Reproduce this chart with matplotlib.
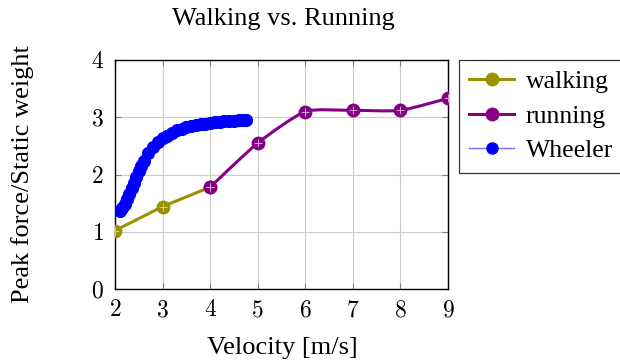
import numpy as np
import matplotlib
matplotlib.use("Agg")
import matplotlib.pyplot as plt
from matplotlib.path import Path
from matplotlib.patches import PathPatch
from matplotlib.lines import Line2D

plt.rcParams['font.family'] = ['Liberation Serif', 'DejaVu Serif']
plt.rcParams['mathtext.fontset'] = 'cm'

# measured curves
walk_v = [2, 3, 4]
walk_f = [1.02, 1.44, 1.78]

run_v = [4, 5, 6, 7, 8, 9]
run_f = [1.78, 2.55, 3.10, 3.12, 3.12, 3.33]

wheeler_v = [2.10, 2.15, 2.20, 2.25, 2.30, 2.35, 2.40, 2.45, 2.50, 2.55, 2.60,
             2.70, 2.80, 2.90, 3.00, 3.10, 3.20, 3.30, 3.40, 3.50, 3.60, 3.70,
             3.80, 3.90, 4.00, 4.10, 4.20, 4.30, 4.40, 4.50, 4.60, 4.70, 4.75]
wheeler_f = [1.36, 1.42, 1.49, 1.57, 1.66, 1.76, 1.86, 1.96, 2.06, 2.15, 2.23,
             2.37, 2.48, 2.57, 2.63, 2.68, 2.73, 2.77, 2.80, 2.83, 2.85, 2.87,
             2.88, 2.89, 2.90, 2.91, 2.92, 2.93, 2.93, 2.94, 2.95, 2.95, 2.95]

xticks = [2, 3, 4, 5, 6, 7, 8, 9]
yticks = [0, 1, 2, 3, 4]

OLIVE = '#9c9200'
PURPLE = '#850085'
BLUE = '#0000ff'


def smooth_path(xs, ys, tension=0.3):
    # tikz-style smooth curve: cubic bezier segments through every point
    pts = np.column_stack([xs, ys]).astype(float)
    n = len(pts)
    verts = [pts[0]]
    codes = [Path.MOVETO]
    for i in range(n - 1):
        p0 = pts[i - 1] if i > 0 else pts[i]
        p1 = pts[i]
        p2 = pts[i + 1]
        p3 = pts[i + 2] if i + 2 < n else pts[i + 1]
        c1 = p1 + (p2 - p0) * tension / 3
        c2 = p2 - (p3 - p1) * tension / 3
        verts += [c1, c2, p2]
        codes += [Path.CURVE4] * 3
    return Path(verts, codes)


def oplus(ax, xs, ys, color, plus_color):
    ax.plot(xs, ys, 'o', ms=9, color=color, zorder=5)
    ax.plot(xs, ys, '+', ms=6, mew=0.7, color=plus_color, zorder=6)


fig = plt.figure(figsize=(6.2, 3.61), dpi=100)
ax = fig.add_axes([0.1855, 0.1994, 0.5371, 0.6344])

ax.plot(walk_v, walk_f, '-', color=OLIVE, lw=2.2, zorder=3)
oplus(ax, walk_v, walk_f, OLIVE, '#d6d080')

ax.add_patch(PathPatch(smooth_path(run_v, run_f), fill=False, edgecolor=PURPLE, lw=2.2, zorder=3))
oplus(ax, run_v, run_f, PURPLE, '#d8a0d8')

ax.plot(wheeler_v, wheeler_f, '-', color='#7070ff', lw=1.0, zorder=4)
ax.plot(wheeler_v, wheeler_f, 'o', ms=8.5, color=BLUE, zorder=5)

ax.set_xlim(2, 9)
ax.set_ylim(0, 4)
ax.set_xticks(xticks)
ax.set_yticks(yticks)
ax.set_xticklabels([f'${t}$' for t in xticks], fontsize=17)
ax.set_yticklabels([f'${t}$' for t in yticks], fontsize=17)
ax.tick_params(direction='in', length=4, color='#808080', width=0.8, top=True, right=True)
ax.tick_params(axis='x', pad=8)
ax.tick_params(axis='y', pad=8)
ax.grid(True, color='#cccccc', lw=0.8)
ax.set_axisbelow(True)
for s in ax.spines.values():
    s.set_linewidth(1.0)
    s.set_color('black')

fig.text(0.457, 0.947, 'Walking vs. Running', ha='center', va='center', fontsize=19)
fig.text(0.455, 0.036, 'Velocity [m/s]', ha='center', va='center', fontsize=19)
fig.text(0.036, 0.517, 'Peak force/Static weight', ha='center', va='center', rotation=90, fontsize=19)

handles = [
    Line2D([], [], color=OLIVE, lw=2.2, marker='o', ms=9),
    Line2D([], [], color=PURPLE, lw=2.2, marker='o', ms=9),
    Line2D([], [], color='#7070ff', lw=1.0, marker='o', ms=8, mfc=BLUE, mec=BLUE),
]
leg = fig.legend(handles, ['walking', 'running', 'Wheeler'], loc='upper left',
                 bbox_to_anchor=(0.740, 0.834), fontsize=18.5, frameon=True,
                 fancybox=False, edgecolor='black', handlelength=1.75,
                 borderpad=0.4, labelspacing=0.45, handletextpad=0.45, borderaxespad=0)
leg.get_frame().set_linewidth(0.9)

fig.savefig('out.png', dpi=100)
